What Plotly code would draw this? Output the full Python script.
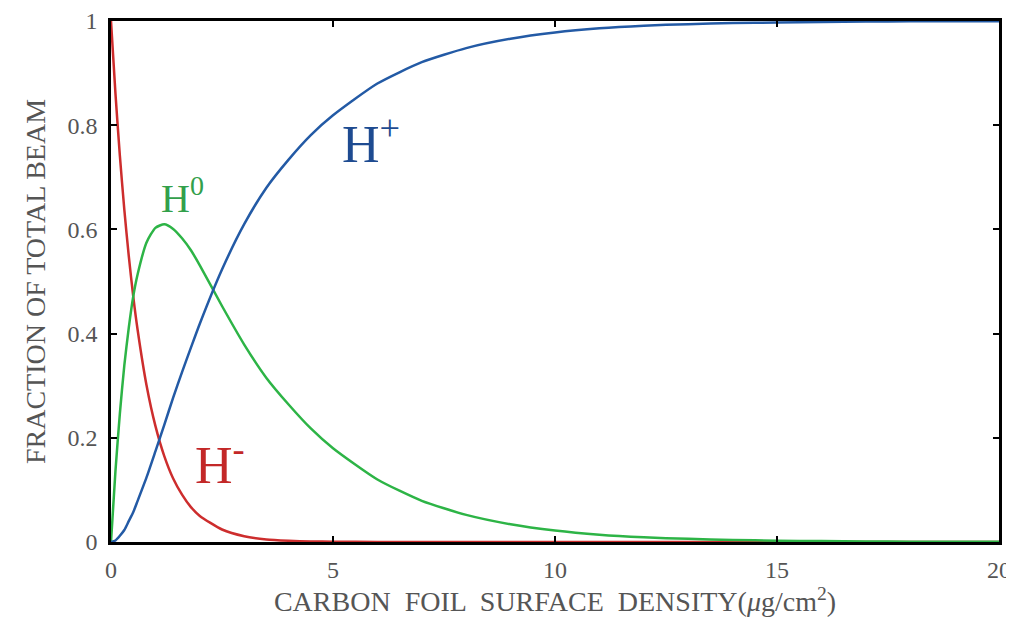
import plotly.graph_objects as go

# Carbon foil surface density (ug/cm^2)
density = [0, 0.1, 0.2, 0.3, 0.4, 0.5, 0.6, 0.8, 1.0, 1.2, 1.4, 1.6, 1.8, 2.0,
           2.5, 3, 3.5, 4, 4.5, 5, 6, 7, 8, 9, 10, 11, 12, 13, 14, 15, 16,
           17, 18, 19, 20]

# Fractions of total beam
h_minus = [1.0, 0.861, 0.741, 0.638, 0.549, 0.472, 0.407, 0.301, 0.223, 0.165,
           0.122, 0.091, 0.067, 0.050, 0.024, 0.011, 0.005, 0.0025, 0.001, 0.0006,
           0.0002, 0, 0, 0, 0, 0, 0, 0, 0, 0, 0, 0, 0, 0, 0]
h_zero = [0.0, 0.136, 0.247, 0.339, 0.411, 0.471, 0.514, 0.575, 0.603, 0.610,
          0.601, 0.583, 0.560, 0.531, 0.453, 0.379, 0.315, 0.264, 0.218, 0.180,
          0.120, 0.079, 0.052, 0.034, 0.022, 0.014, 0.009, 0.006, 0.004, 0.0026,
          0.0017, 0.0011, 0.0007, 0.0005, 0.0003]
h_plus = [0.0, 0.003, 0.012, 0.023, 0.040, 0.057, 0.079, 0.124, 0.174, 0.225,
          0.277, 0.326, 0.373, 0.419, 0.523, 0.610, 0.680, 0.734, 0.781, 0.819,
          0.880, 0.921, 0.948, 0.966, 0.978, 0.986, 0.991, 0.994, 0.996, 0.997,
          0.998, 0.999, 0.9993, 0.9995, 0.9997]

x_ticks = [0, 5, 10, 15, 20]
y_ticks = [0, 0.2, 0.4, 0.6, 0.8, 1]
y_tick_labels = ["0", "0.2", "0.4", "0.6", "0.8", "1"]

RED = "rgb(205,45,45)"
GREEN = "rgb(45,180,70)"
BLUE = "rgb(35,90,165)"

fig = go.Figure()
fig.add_trace(go.Scatter(x=density, y=h_minus, mode="lines",
                         line=dict(color=RED, width=2.5, shape="spline", smoothing=0.6)))
fig.add_trace(go.Scatter(x=density, y=h_zero, mode="lines",
                         line=dict(color=GREEN, width=2.5, shape="spline", smoothing=0.6)))
fig.add_trace(go.Scatter(x=density, y=h_plus, mode="lines",
                         line=dict(color=BLUE, width=2.5, shape="spline", smoothing=0.6)))

serif = "Liberation Serif"
GRAY = "rgb(85,85,85)"

fig.add_annotation(x=5.85, y=0.77, xref="x", yref="y", showarrow=False,
                   text="H<sup>+</sup>", font=dict(family=serif, size=52, color="rgb(30,75,145)"))
fig.add_annotation(x=1.62, y=0.665, xref="x", yref="y", showarrow=False,
                   text="H<sup>0</sup>", font=dict(family=serif, size=40, color="rgb(50,160,75)"))
fig.add_annotation(x=2.45, y=0.155, xref="x", yref="y", showarrow=False,
                   text="H<sup>-</sup>", font=dict(family=serif, size=52, color="rgb(195,40,40)"))

axis_common = dict(showline=True, linecolor="black", linewidth=2.5, mirror="ticks",
                   ticks="inside", ticklen=6, tickwidth=2, tickcolor="black",
                   showgrid=False, zeroline=False, automargin=False,
                   tickfont=dict(family=serif, size=24, color=GRAY))

fig.update_xaxes(range=[0, 20], tickvals=x_ticks,
                 title=dict(text="CARBON  FOIL  SURFACE  DENSITY(<i>μ</i>g/cm<sup>2</sup>)",
                            font=dict(family=serif, size=28, color=GRAY), standoff=8),
                 ticklabelstandoff=4, **axis_common)
fig.update_yaxes(range=[0, 1], tickvals=y_ticks, ticktext=y_tick_labels,
                 title=dict(text="FRACTION OF TOTAL BEAM",
                            font=dict(family=serif, size=28, color=GRAY), standoff=14),
                 ticklabelstandoff=6, **axis_common)

fig.update_layout(width=1006, height=619, showlegend=False,
                  font=dict(family=serif, color=GRAY),
                  margin=dict(l=103, r=15, t=13, b=85),
                  plot_bgcolor="white", paper_bgcolor="white")

fig.write_html("out.html")
